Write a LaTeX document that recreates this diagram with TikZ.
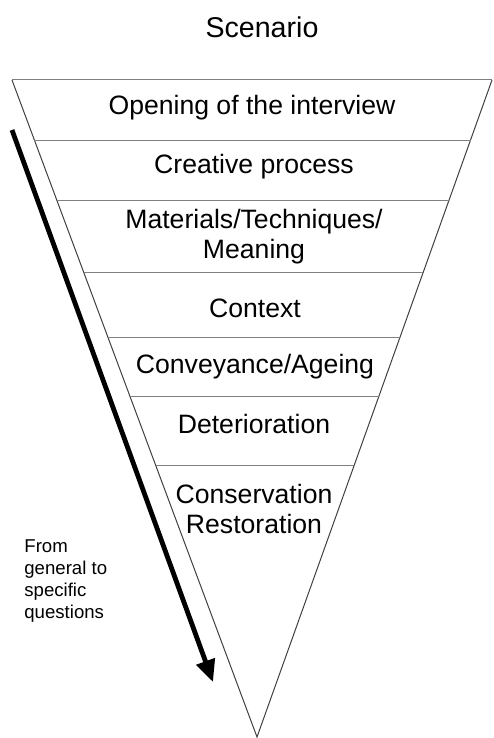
\documentclass[tikz,border=0pt]{standalone}
\usepackage{fontspec}
\setmainfont{Liberation Sans}
\usetikzlibrary{arrows.meta,calc,positioning}

\begin{document}
\begin{tikzpicture}
    [x=0.5pt,y=-0.5pt,
    stage/.style={
      align=center,
      inner sep=0pt,
      font=\fontsize{13.3}{15}\selectfont
      },
    level/.style={draw=gray,line width=0.5pt},
    side/.style={draw=black!75,line width=0.5pt},
    flow/.style={-{Triangle[width=9.5pt,length=11pt]},line width=2.4pt}]

    \useasboundingbox (0,0) rectangle (493,738);

    % the funnel
    \coordinate (tl) at (12,80); \coordinate (tr) at (492,80); \coordinate (apex) at (257,737);
    \draw[side] (tl) -- (apex) -- (tr);
    \draw[level] (tl) -- (tr);
    \foreach \yy in {140,200,272,338,397,466}{
      \pgfmathsetmacro{\f}{(\yy-80)/657}
      \draw[level] ($(tl)!\f!(apex)$) -- ($(tr)!\f!(apex)$);
    }

    \node (title) [stage,font=\fontsize{14.3}{15}\selectfont] at (262,27) {Scenario};

    \node (s1) [stage] at (252,108) {Opening of the interview};
    \node (s2) [stage] at (254,167) {Creative process};
    \node (s3) [stage] at (254,237) {Materials/Techniques/\\Meaning};
    \node (s4) [stage] at (255,308) {Context};
    \node (s5) [stage] at (255,367) {Conveyance/Ageing};
    \node (s6) [stage] at (254,424) {Deterioration};
    \node (s7) [stage] at (254,509) {Conservation\\Restoration};

    % direction of questioning
    \coordinate (from) at (12,130); \coordinate (to) at (213,682);
    \draw[flow] (from) -- (to);
    \node (hint) [align=left,inner sep=0pt,anchor=north west,
      font=\fontsize{9.3}{11}\selectfont] at (24,539) {From\\general to\\specific\\questions};

  \end{tikzpicture}
\end{document}
